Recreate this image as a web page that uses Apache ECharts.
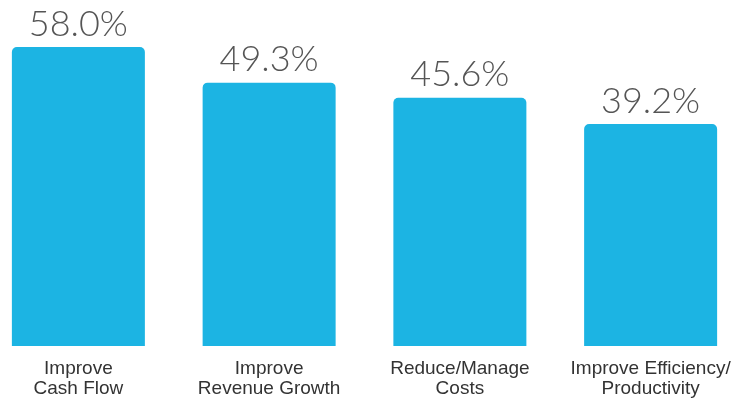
<!DOCTYPE html>
<html><head><meta charset="utf-8">
<script src="https://cdn.jsdelivr.net/npm/echarts@6/dist/echarts.min.js"></script>
<style>html,body{margin:0;padding:0;background:#fff}#c{width:737px;height:400px}</style>
</head><body><div id="c"></div>
<script>
const categories = ['Improve\nCash Flow', 'Improve\nRevenue Growth', 'Reduce/Manage\nCosts', 'Improve Efficiency/\nProductivity'];
const values = [58.0, 49.3, 45.6, 39.2];
const axisBase = -15; // value at the bars' baseline (chart does not start at zero)
const chart = echarts.init(document.getElementById('c'));
chart.setOption({
  animation: false,
  grid: {left: -17, right: -9, top: 47, bottom: 54, containLabel: false, outerBoundsMode: 'none'},
  xAxis: {
    type: 'category', data: categories,
    axisLine: {show: false}, axisTick: {show: false},
    axisLabel: {color: '#333', fontSize: 19, lineHeight: 20, margin: 13, fontFamily: 'Liberation Sans', interval: 0}
  },
  yAxis: {type: 'value', min: 0, max: 58 - axisBase, show: false, splitLine: {show: false}},
  series: [{
    type: 'bar', data: values.map(v => v - axisBase), barWidth: 133,
    itemStyle: {color: '#1CB4E3', borderRadius: [5, 5, 0, 0]},
    label: {show: true, position: 'top', distance: 5, color: '#555', fontSize: 36, fontFamily: 'Lato', fontWeight: 300,
      formatter: p => values[p.dataIndex].toFixed(1) + '%'}
  }]
});
</script></body></html>
